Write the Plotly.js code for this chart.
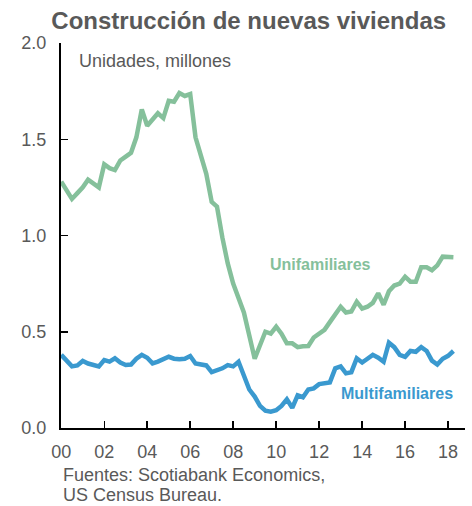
<!DOCTYPE html>
<html>
<head>
<meta charset="utf-8">
<script src="https://cdn.plot.ly/plotly-3.0.1.min.js"></script>
<style>html,body{margin:0;padding:0;background:#fff;}#chart{width:472px;height:506px;}</style>
</head>
<body>
<div id="chart"></div>
<script>
// Quarterly, 2000Q1 .. 2018Q2
var startYear = 2000, nQuarters = 74;
var quarters = [];
for (var i = 0; i < nQuarters; i++) {
  var y = startYear + Math.floor(i / 4);
  var m = (i % 4) * 3 + 1;
  quarters.push(y + '-' + (m < 10 ? '0' + m : m) + '-01');
}

var unifamiliares = [
  1.28, 1.24, 1.19, 1.22, 1.25, 1.29, 1.27, 1.25,
  1.37, 1.35, 1.34, 1.39, 1.41, 1.43, 1.51, 1.655,
  1.57, 1.60, 1.635, 1.61, 1.70, 1.695, 1.74, 1.725,
  1.735, 1.51, 1.42, 1.32, 1.175, 1.15, 0.99, 0.855,
  0.75, 0.68, 0.60, 0.48, 0.36, 0.43, 0.50, 0.49,
  0.526, 0.49, 0.44, 0.44, 0.42, 0.425, 0.426, 0.47,
  0.49, 0.51, 0.55, 0.59, 0.63, 0.60, 0.605, 0.656,
  0.62, 0.63, 0.65, 0.70, 0.64, 0.71, 0.74, 0.75,
  0.786, 0.76, 0.76, 0.835, 0.835, 0.82, 0.845, 0.89,
  0.89, 0.887
];

var multifamiliares = [
  0.38, 0.35, 0.32, 0.325, 0.348, 0.335, 0.33, 0.32,
  0.353, 0.345, 0.362, 0.34, 0.327, 0.33, 0.36, 0.38,
  0.365, 0.336, 0.345, 0.36, 0.37, 0.36, 0.357, 0.36,
  0.374, 0.335, 0.33, 0.325, 0.29, 0.30, 0.31, 0.327,
  0.32, 0.344, 0.27, 0.20, 0.163, 0.115, 0.09, 0.085,
  0.092, 0.115, 0.149, 0.105, 0.17, 0.16, 0.20, 0.206,
  0.228, 0.232, 0.237, 0.31, 0.32, 0.284, 0.29, 0.362,
  0.34, 0.36, 0.38, 0.365, 0.344, 0.443, 0.42, 0.38,
  0.37, 0.40, 0.396, 0.42, 0.40, 0.35, 0.33, 0.36,
  0.375, 0.40
];

var yTickVals = [0, 0.5, 1.0, 1.5, 2.0];
var yTickText = ['0.0', '0.5', '1.0', '1.5', '2.0'];

var green = 'rgb(133,192,155)';
var blue = 'rgb(58,153,207)';
var gray = '#595959';
var font = 'Liberation Sans, Arial, sans-serif';

var traces = [
  {x: quarters, y: unifamiliares, type: 'scatter', mode: 'lines', name: 'Unifamiliares',
   line: {color: green, width: 4.5}},
  {x: quarters, y: multifamiliares, type: 'scatter', mode: 'lines', name: 'Multifamiliares',
   line: {color: blue, width: 4.5}}
];

var layout = {
  width: 472, height: 506,
  margin: {l: 61, r: 7, t: 43, b: 78},
  paper_bgcolor: '#fff', plot_bgcolor: '#fff',
  showlegend: false,
  font: {family: font, size: 18, color: gray},
  title: {text: '<b>Construcción de nuevas viviendas</b>', x: 0.527, xanchor: 'center', y: 0.96, yanchor: 'middle',
          yref: 'container', font: {family: font, size: 24, color: gray}},
  xaxis: {
    type: 'date', range: ['1999-12-28', '2018-10-15'],
    tick0: '2000-01-01', dtick: 'M24', tickformat: '%y',
    ticks: 'inside', ticklen: 7, tickwidth: 1.5, tickcolor: '#000',
    showline: true, linecolor: '#000', linewidth: 2,
    showgrid: false, zeroline: false, ticklabelstandoff: 6,
    tickfont: {family: font, size: 18, color: gray}
  },
  yaxis: {
    range: [0, 2], tickvals: yTickVals, ticktext: yTickText,
    ticks: 'inside', ticklen: 7, tickwidth: 1.5, tickcolor: '#000',
    showline: true, linecolor: '#000', linewidth: 2,
    showgrid: false, zeroline: false, ticklabelstandoff: 9,
    tickfont: {family: font, size: 18, color: gray}
  },
  annotations: [
    {text: 'Unidades, millones', xref: 'paper', yref: 'paper', x: 0.039, y: 0.952, xanchor: 'left', yanchor: 'middle',
     showarrow: false, font: {family: font, size: 18, color: gray}},
    {text: '<b>Unifamiliares</b>', xref: 'x', yref: 'y', x: '2012-02-01', y: 0.847, xanchor: 'center', yanchor: 'middle',
     showarrow: false, font: {family: font, size: 16, color: green}},
    {text: '<b>Multifamiliares</b>', xref: 'x', yref: 'y', x: '2015-08-15', y: 0.18, xanchor: 'center', yanchor: 'middle',
     showarrow: false, font: {family: font, size: 16, color: blue}},
    {text: 'Fuentes: Scotiabank Economics,', xref: 'paper', yref: 'paper', x: 0, y: -0.122,
     xanchor: 'left', yanchor: 'middle', align: 'left', showarrow: false,
     font: {family: font, size: 18, color: gray}},
    {text: 'US Census Bureau.', xref: 'paper', yref: 'paper', x: 0, y: -0.174,
     xanchor: 'left', yanchor: 'middle', align: 'left', showarrow: false,
     font: {family: font, size: 18, color: gray}}
  ]
};

Plotly.newPlot('chart', traces, layout, {displayModeBar: false, staticPlot: true});
</script>
</body>
</html>
